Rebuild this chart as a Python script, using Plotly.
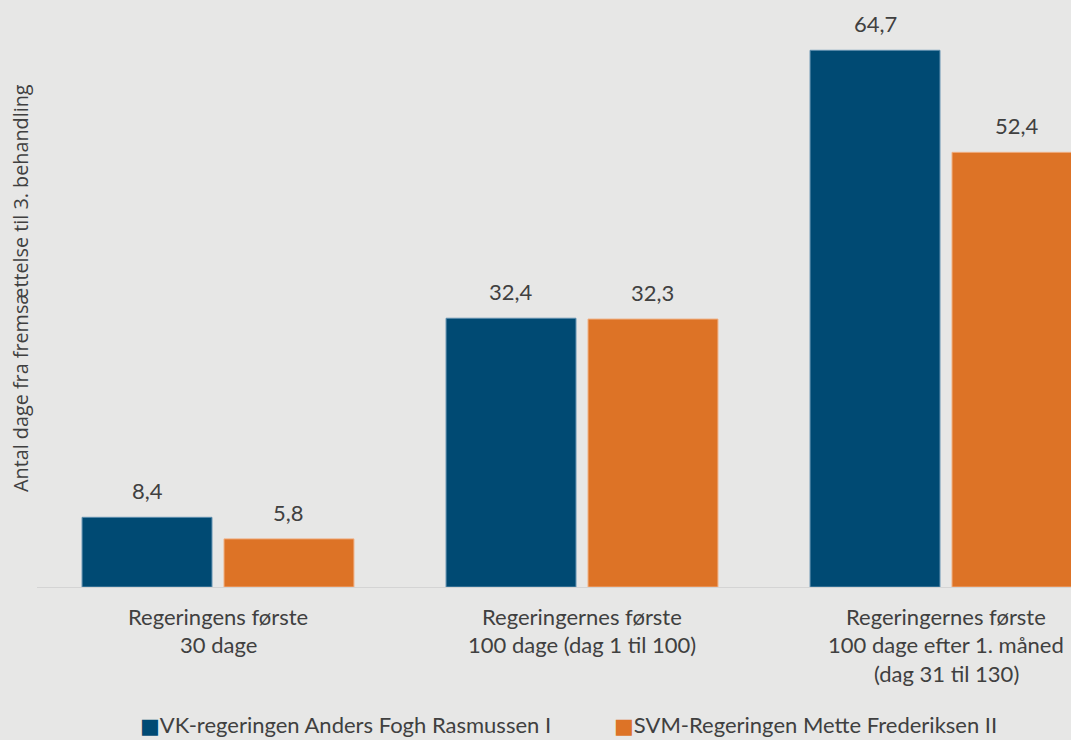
import plotly.graph_objects as go

categories = ["Regeringens første<br>30 dage",
              "Regeringernes første<br>100 dage (dag 1 til 100)",
              "Regeringernes første<br>100 dage efter 1. måned<br>(dag 31 til 130)"]
series_names = ["VK-regeringen Anders Fogh Rasmussen I",
                "SVM-Regeringen Mette Frederiksen II"]
vk_values = [8.4, 32.4, 64.7]
svm_values = [5.8, 32.3, 52.4]
y_title = "Antal dage fra fremsættelse til 3. behandling"

colors = ["#004a73", "#dd7326"]
outline = ["#5f8fae", "#f0ae80"]
bg = "#e7e7e6"
txt = "#404040"
font_main = "Lato"
fs = 22

W, H = 1071, 740
ML, MB = 37, 153
PH = H - MB
bargap = 0.22
bargroupgap = 0.085

xs = list(range(len(categories)))
fig = go.Figure()
for i, (name, vals) in enumerate(zip(series_names, [vk_values, svm_values])):
    fig.add_trace(go.Bar(
        x=xs, y=vals, name=name,
        marker=dict(color=colors[i], line=dict(color=outline[i], width=1)),
        showlegend=False, hoverinfo="skip"))

annotations = []
slot = (1 - bargap) / 2
for i, vals in enumerate([vk_values, svm_values]):
    off = (i - 0.5) * slot
    for j, v in enumerate(vals):
        annotations.append(dict(
            x=j + off, y=v, xref="x", yref="y", text=f"{v:.1f}".replace(".", ","),
            showarrow=False, yanchor="bottom", yshift=11,
            font=dict(family=font_main, size=fs, color=txt)))

# category labels (one annotation per line for Excel-like spacing)
for j, cat in enumerate(categories):
    for k, line in enumerate(cat.split("<br>")):
        annotations.append(dict(
            x=j, y=0, xref="x", yref="paper", text=line, showarrow=False,
            yanchor="middle", yshift=-(29 + 28.5 * k),
            font=dict(family=font_main, size=fs, color=txt)))

# y-axis title
annotations.append(dict(
    x=(20 - ML) / (W - ML), y=(PH - 288) / PH, xref="paper", yref="paper",
    xanchor="center", yanchor="middle", text=y_title, showarrow=False,
    textangle=-90, font=dict(family="Open Sans", size=19.8, color=txt)))

# legend drawn as text
leg_x = [138, 612]
for i, name in enumerate(series_names):
    annotations.append(dict(
        x=(leg_x[i] - ML) / (W - ML), y=-(724 - PH) / PH,
        xref="paper", yref="paper", xanchor="left", yanchor="middle",
        text=(f"<span style='color:{colors[i]};font-size:21px;font-family:DejaVu Sans'>■</span>"
              f"{name}"),
        showarrow=False, font=dict(family=font_main, size=fs, color=txt)))

ymax = 587 / 8.295
x0 = -(218 - ML) / 364
x1 = x0 + (W - ML) / 364

fig.update_layout(
    width=W, height=H,
    margin=dict(l=ML, r=0, t=0, b=MB),
    paper_bgcolor=bg, plot_bgcolor=bg,
    barmode="group", bargap=bargap, bargroupgap=bargroupgap,
    xaxis=dict(range=[x0, x1], showticklabels=False, showgrid=False,
               showline=True, linecolor="#d4d4d4", linewidth=1, zeroline=False,
               ticks=""),
    yaxis=dict(range=[0, ymax], showticklabels=False, showgrid=False,
               zeroline=False, showline=False),
    annotations=annotations,
)
fig.write_html("out.html",
               config={"displayModeBar": False},
               post_script="document.body.style.margin='0';document.body.style.padding='0';"
                           "document.body.style.overflow='hidden';")
